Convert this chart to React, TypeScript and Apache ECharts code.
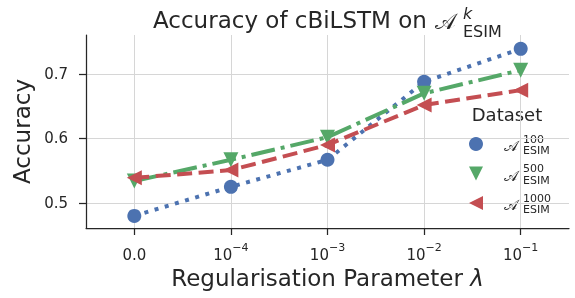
import React, { useEffect, useRef } from 'react';
import * as echarts from 'echarts';

// Regularisation parameter values (categories) and their tick labels
const lambdas = ['0.0', '1e-4', '1e-3', '1e-2', '1e-1'];
const tickBases = ['0.0', '10', '10', '10', '10'];
const tickExponents = ['', '−4', '−3', '−2', '−1'];
const yTicks = [0.5, 0.6, 0.7];

// Accuracy per dataset size
const datasetSizes = ['100', '500', '1000'];
const acc100 = [0.48, 0.525, 0.567, 0.688, 0.739];
const acc500 = [0.534, 0.567, 0.602, 0.67, 0.706];
const acc1000 = [0.539, 0.551, 0.59, 0.652, 0.675];

const FONT = '"DejaVu Sans", "Noto Sans", sans-serif';
const INK = '#262626';
const COLORS = ['#4C72B0', '#55A868', '#C44E52'];

export default function App() {
  const ref = useRef<HTMLDivElement>(null);
  useEffect(() => {
    const chart = echarts.init(ref.current!, null, { renderer: 'svg' });
    const seriesData = [acc100, acc500, acc1000];
    const symbols = ['circle', 'triangle', 'triangle'];
    const rotations = [0, 180, 90];
    const legendIcons = ['circle', 'path://M0,0 L10,0 L5,10 Z', 'path://M10,0 L10,10 L0,5 Z'];
    const dashes = [[4, 6.6], [24, 6, 4, 6], [15, 6.5]];

    const legendGraphics: any[] = [];
    datasetSizes.forEach((n, i) => {
      const cy = 145 + 29.5 * i;
      legendGraphics.push(
        { type: 'text', x: 504, y: cy + 1, style: { text: '𝒜', font: `15px ${FONT}`, fill: INK, verticalAlign: 'middle', align: 'left' } },
        { type: 'text', x: 523, y: cy - 6, style: { text: n, font: `11px ${FONT}`, fill: INK, verticalAlign: 'middle', align: 'left' } },
        { type: 'text', x: 523, y: cy + 5.5, style: { text: 'ESIM', font: `11px ${FONT}`, fill: INK, verticalAlign: 'middle', align: 'left' } }
      );
    });

    const option: any = {
      animation: false,
      textStyle: { fontFamily: FONT },
      grid: { left: 86, right: 6, top: 35, bottom: 70, containLabel: false },
      xAxis: {
        type: 'category',
        data: lambdas,
        boundaryGap: true,
        axisLine: { show: true, lineStyle: { color: INK, width: 1.25 } },
        axisTick: { show: true, interval: 0, alignWithLabel: true, length: 7, lineStyle: { color: INK, width: 1.25 } },
        splitLine: { show: true, interval: 0, alignWithLabel: true, lineStyle: { color: '#d6d6d6', width: 1 } },
        axisLabel: {
          interval: 0,
          margin: 14,
          formatter: (_v: string, idx: number) =>
            tickExponents[idx] ? `{b|${tickBases[idx]}}{s|${tickExponents[idx]}}` : `{b|${tickBases[idx]}}`,
          rich: {
            b: { fontSize: 15, color: INK, fontFamily: FONT, lineHeight: 20, verticalAlign: 'bottom' },
            s: { fontSize: 11, color: INK, fontFamily: FONT, lineHeight: 10, verticalAlign: 'top' },
          },
        },
        name: 'Regularisation Parameter {i|λ}',
        nameLocation: 'middle',
        nameGap: 36,
        nameTextStyle: {
          fontSize: 23, color: INK, fontFamily: FONT,
          rich: { i: { fontSize: 23, fontStyle: 'italic', color: INK, fontFamily: FONT } },
        },
      },
      yAxis: {
        type: 'value',
        min: 0.4612,
        max: 0.7605,
        axisLine: { show: true, lineStyle: { color: INK, width: 1.25 } },
        axisTick: { show: true, length: 7, customValues: yTicks, lineStyle: { color: INK, width: 1.25 } },
        axisLabel: { customValues: yTicks, margin: 18, fontSize: 15, color: INK, fontFamily: FONT, formatter: (v: number) => v.toFixed(1) },
        splitLine: { show: true, lineStyle: { color: '#d6d6d6', width: 1 } },
        name: 'Accuracy',
        nameLocation: 'middle',
        nameGap: 50,
        nameTextStyle: { fontSize: 23, color: INK, fontFamily: FONT },
      },
      legend: {
        orient: 'vertical',
        left: 469,
        top: 137,
        padding: 0,
        itemWidth: 14,
        itemHeight: 14,
        itemGap: 15.5,
        selectedMode: false,
        formatter: () => '',
        data: datasetSizes.map((n, i) => ({ name: n, icon: legendIcons[i] })),
      },
      series: datasetSizes.map((n, i) => ({
        name: n,
        type: 'line',
        data: seriesData[i],
        symbol: symbols[i],
        symbolSize: i === 0 ? 14 : 15,
        symbolRotate: rotations[i],
        showSymbol: true,
        lineStyle: { color: COLORS[i], width: 4, type: dashes[i], cap: 'butt' },
        itemStyle: { color: COLORS[i], borderWidth: 0 },
        z: 2 + i,
      })),
      graphic: [
        { type: 'text', x: 153, y: 20, style: { text: 'Accuracy of cBiLSTM on', font: `23px ${FONT}`, fill: INK, verticalAlign: 'middle', align: 'left' } },
        { type: 'text', x: 435, y: 21, style: { text: '𝒜', font: `22px ${FONT}`, fill: INK, verticalAlign: 'middle', align: 'left' } },
        { type: 'text', x: 463, y: 13, style: { text: 'k', font: `italic 16px ${FONT}`, fill: INK, verticalAlign: 'middle', align: 'left' } },
        { type: 'text', x: 463, y: 31, style: { text: 'ESIM', font: `16px ${FONT}`, fill: INK, verticalAlign: 'middle', align: 'left' } },
        { type: 'text', x: 507, y: 114, style: { text: 'Dataset', font: `18px ${FONT}`, fill: INK, verticalAlign: 'middle', align: 'center' } },
        ...legendGraphics,
      ],
    };
    chart.setOption(option);
    return () => chart.dispose();
  }, []);
  return <div ref={ref} style={{ position: 'fixed', left: 0, top: 0, width: 575, height: 298 }} />;
}
